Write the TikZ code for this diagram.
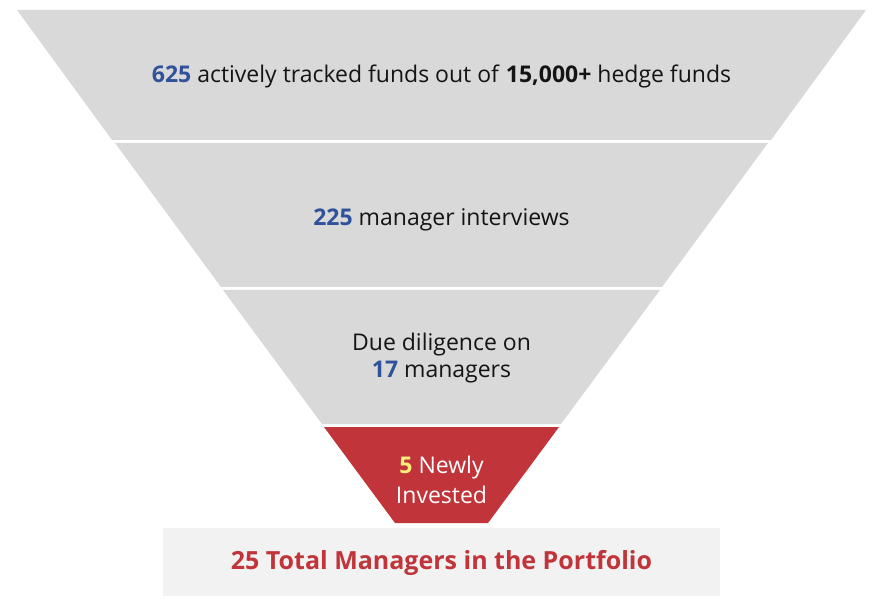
\documentclass[tikz,border=0pt]{standalone}
\usepackage{fontspec}
\setmainfont{Open Sans}
\definecolor{tiergray}{HTML}{D9D9D9}
\definecolor{boxgray}{HTML}{F2F2F2}
\definecolor{numblue}{HTML}{2F529A}
\definecolor{redfill}{HTML}{C0343A}
\definecolor{numyellow}{HTML}{FFF07A}
\definecolor{textdark}{HTML}{141414}
\tikzset{
  tier/.style={fill=tiergray, draw=none},
  redtier/.style={fill=redfill, draw=none},
  lbl/.style={font=\fontsize{23}{27}\selectfont, text=textdark, align=center, inner sep=0pt},
}
\newcommand{\nb}[1]{\textbf{\textcolor{numblue}{#1}}}
\begin{document}
\begin{tikzpicture}[x=1pt,y=1pt]
\useasboundingbox (0,0) rectangle (885,608);
% tiers (y measured from top: ytikz = 608 - y)
\path[tier] (17,598) -- (866,598) -- (771,468) -- (112,468) -- cycle;
\path[tier] (115,465) -- (768,465) -- (662,321) -- (221,321) -- cycle;
\path[tier] (223,318) -- (660,318) -- (561,184) -- (322,184) -- cycle;
\path[redtier] (324,181) -- (559,181) -- (488,85) -- (395,85) -- cycle;
\path[fill=boxgray] (163,80) rectangle (720,12);
% labels
\node[lbl] (t1) at (441.5,531.5) {\nb{625} actively tracked funds out of \textbf{15,000+} hedge funds};
\node[lbl] (t2) at (441.5,388.5) {\nb{225} manager interviews};
\node[lbl] (t3) at (441.5,250) {Due diligence on\\\nb{17} managers};
\node[lbl, text=white, font=\fontsize{23}{30}\selectfont] (t4) at (441.5,128.5) {\textbf{\textcolor{numyellow}{5}} Newly\\Invested};
\node[lbl, text=redfill, font=\fontsize{25}{25}\selectfont\bfseries] (t5) at (441.5,45.5) {25 Total Managers in the Portfolio};
\end{tikzpicture}
\end{document}
